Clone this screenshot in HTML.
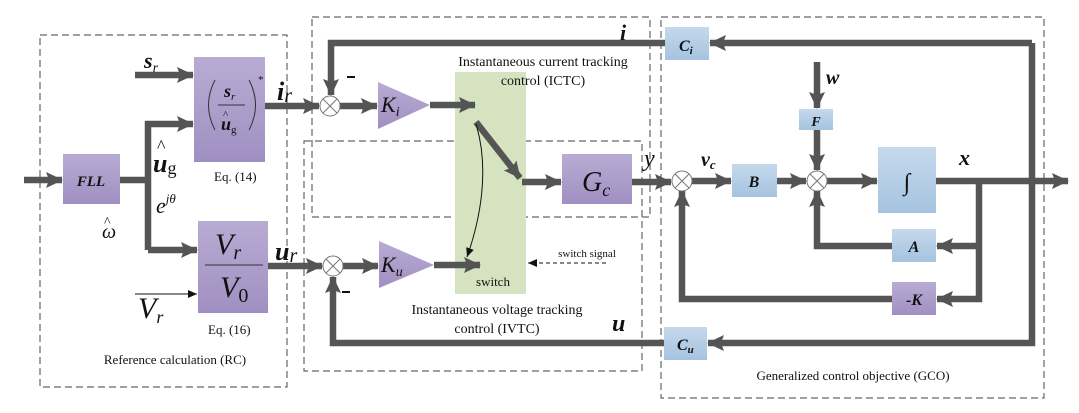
<!DOCTYPE html>
<html><head><meta charset="utf-8">
<style>
html,body{margin:0;padding:0;background:#fff;}
svg{display:block;font-family:"Liberation Serif",serif;}
</style></head>
<body>
<svg width="1079" height="413" viewBox="0 0 1079 413" xmlns="http://www.w3.org/2000/svg">
<defs>
<linearGradient id="pu" x1="0" y1="0" x2="0" y2="1"><stop offset="0" stop-color="#b9acd3"/><stop offset="1" stop-color="#a08fc2"/></linearGradient>
<linearGradient id="bl" x1="0" y1="0" x2="0" y2="1"><stop offset="0" stop-color="#c5d9ec"/><stop offset="1" stop-color="#a5c3df"/></linearGradient>
<marker id="ah" markerUnits="userSpaceOnUse" markerWidth="18" markerHeight="18" refX="16" refY="9" orient="auto"><path d="M0,1 L17,9 L0,17 L3,9 Z" fill="#545454"/></marker>
<marker id="th" markerUnits="userSpaceOnUse" markerWidth="10" markerHeight="10" refX="9" refY="5" orient="auto"><path d="M0,1 L9,5 L0,9 Z" fill="#111"/></marker>
</defs>
<g fill="none" stroke="#666" stroke-width="1.2" stroke-dasharray="7,4">
<rect x="40" y="35" width="247" height="352"/>
<rect x="312" y="17" width="338" height="200"/>
<rect x="304" y="141" width="338" height="230"/>
<rect x="661" y="17" width="383" height="381"/>
</g>
<rect x="455" y="72" width="71" height="222" fill="#d6e3c0"/>
<!-- boxes -->
<rect x="63" y="154" width="57" height="50" fill="url(#pu)"/>
<rect x="194" y="57" width="71" height="105" fill="url(#pu)"/>
<rect x="198" y="221" width="70" height="92" fill="url(#pu)"/>
<rect x="562" y="154" width="70" height="50" fill="url(#pu)"/>
<polygon points="378,82 430,105 378,129" fill="url(#pu)"/>
<polygon points="379,241 434,265 379,288" fill="url(#pu)"/>
<rect x="665" y="27" width="44" height="33" fill="url(#bl)"/>
<rect x="664" y="327" width="43" height="33" fill="url(#bl)"/>
<rect x="732" y="164" width="45" height="33" fill="url(#bl)"/>
<rect x="799" y="109" width="34" height="21" fill="url(#bl)"/>
<rect x="878" y="147" width="58" height="66" fill="url(#bl)"/>
<rect x="892" y="229" width="44" height="33" fill="url(#bl)"/>
<rect x="892" y="282" width="44" height="33" fill="url(#pu)"/>
<!-- thick connectors -->
<g fill="none" stroke="#555" stroke-width="6.5">
<path d="M24,180 H62" marker-end="url(#ah)"/>
<path d="M120,180 H145"/>
<path d="M148,250 V124 H193" marker-end="url(#ah)"/>
<path d="M148,250 H197" marker-end="url(#ah)"/>
<path d="M135,75 H193" marker-end="url(#ah)"/>
<path d="M265,106 H319" marker-end="url(#ah)"/>
<path d="M268,266 H322" marker-end="url(#ah)"/>
<path d="M665,43 H331 V95" marker-end="url(#ah)"/>
<path d="M340,106 H377" marker-end="url(#ah)"/>
<path d="M430,105 H475" marker-end="url(#ah)"/>
<path d="M476,122 L520,178" marker-end="url(#ah)"/>
<path d="M522,182 H561" marker-end="url(#ah)"/>
<path d="M632,182 H671" marker-end="url(#ah)"/>
<path d="M343,266 H378" marker-end="url(#ah)"/>
<path d="M434,265 H480" marker-end="url(#ah)"/>
<path d="M664,343 H333 V277" marker-end="url(#ah)"/>
<path d="M1032,43 H710" marker-end="url(#ah)"/>
<path d="M1032,43 V343 H708" marker-end="url(#ah)"/>
<path d="M692,181 H731" marker-end="url(#ah)"/>
<path d="M777,181 H806" marker-end="url(#ah)"/>
<path d="M817,62 V108" marker-end="url(#ah)"/>
<path d="M817,130 V170" marker-end="url(#ah)"/>
<path d="M827,181 H877" marker-end="url(#ah)"/>
<path d="M936,181 H1068" marker-end="url(#ah)"/>
<path d="M979,181 V299 H937" marker-end="url(#ah)"/>
<path d="M979,246 H937" marker-end="url(#ah)"/>
<path d="M892,246 H817 V191" marker-end="url(#ah)"/>
<path d="M892,299 H682 V191" marker-end="url(#ah)"/>
</g>
<!-- sum circles -->
<g fill="#fff" stroke="#777" stroke-width="1">
<circle cx="330" cy="106" r="10"/><circle cx="333" cy="266" r="10"/>
<circle cx="682" cy="181" r="10"/><circle cx="817" cy="181" r="10"/>
</g>
<g stroke="#777" stroke-width="1">
<path d="M323,99 L337,113 M337,99 L323,113"/><path d="M326,259 L340,273 M340,259 L326,273"/>
<path d="M675,174 L689,188 M689,174 L675,188"/><path d="M810,174 L824,188 M824,174 L810,188"/>
</g>
<!-- thin lines -->
<path d="M135,294 H197" stroke="#111" stroke-width="1" marker-end="url(#th)"/>
<path d="M476,124 C490,170 480,220 467,257" fill="none" stroke="#111" stroke-width="1" marker-end="url(#th)"/>
<path d="M606,263 H528" stroke="#111" stroke-width="1" stroke-dasharray="4,3" marker-end="url(#th)"/>
<!-- parens -->
<path d="M215,80 Q202,105 215,130" fill="none" stroke="#333" stroke-width="1"/>
<path d="M249,80 Q262,105 249,130" fill="none" stroke="#333" stroke-width="1"/>
<!-- text -->
<g fill="#111">
<text x="91" y="186" font-size="15" font-weight="bold" font-style="italic" text-anchor="middle">FLL</text>
<text x="144" y="68" font-size="22" font-weight="bold" font-style="italic">s<tspan font-size="14" font-weight="normal" dy="4">r</tspan></text>
<text x="153" y="172" font-size="26" font-weight="bold" font-style="italic">u<tspan font-size="18" font-weight="normal" font-style="normal" dy="2">g</tspan></text>
<text x="157" y="152" font-size="18">^</text>
<text x="156" y="213" font-size="22" font-style="italic">e<tspan font-size="13" dy="-10">jθ</tspan></text>
<text x="102" y="238" font-size="20" font-style="italic">ω</text>
<text x="104" y="226" font-size="14">^</text>
<text x="258" y="83" font-size="11">*</text>
<text x="224" y="97" font-size="18" font-weight="bold" font-style="italic">s<tspan font-size="11" font-weight="normal" dy="3">r</tspan></text>
<line x1="218" y1="105" x2="245" y2="105" stroke="#333" stroke-width="1"/>
<text x="221" y="130" font-size="18" font-weight="bold" font-style="italic">u<tspan font-size="11" font-weight="normal" font-style="normal" dy="3">g</tspan></text>
<text x="223" y="118" font-size="11">^</text>
<text x="214" y="181" font-size="13">Eq. (14)</text>
<text x="215" y="254" font-size="30" font-style="italic">V<tspan font-size="20" dy="5">r</tspan></text>
<line x1="205" y1="265" x2="263" y2="265" stroke="#333" stroke-width="1"/>
<text x="220" y="297" font-size="30" font-style="italic">V<tspan font-size="20" font-style="normal" dy="5">0</tspan></text>
<text x="208" y="334" font-size="13">Eq. (16)</text>
<text x="138" y="318" font-size="30" font-style="italic">V<tspan font-size="18" dy="5">r</tspan></text>
<text x="175" y="364" font-size="13" text-anchor="middle">Reference calculation (RC)</text>
<text x="277" y="100" font-size="26" font-weight="bold" font-style="italic">i<tspan font-size="20" font-weight="normal" dy="2">r</tspan></text>
<text x="275" y="260" font-size="26" font-weight="bold" font-style="italic">u<tspan font-size="20" font-weight="normal" dy="2">r</tspan></text>
<rect x="347" y="76" width="8" height="2"/>
<rect x="342" y="291" width="8" height="2"/>
<text x="381" y="112" font-size="22" font-style="italic">K<tspan font-size="14" dy="4">i</tspan></text>
<text x="381" y="272" font-size="22" font-style="italic">K<tspan font-size="14" dy="4">u</tspan></text>
<text x="543" y="66" font-size="14" text-anchor="middle">Instantaneous current tracking</text>
<text x="543" y="85" font-size="14" text-anchor="middle">control (ICTC)</text>
<text x="497" y="314" font-size="14" text-anchor="middle">Instantaneous voltage tracking</text>
<text x="497" y="333" font-size="14" text-anchor="middle">control (IVTC)</text>
<text x="493" y="286" font-size="13" text-anchor="middle">switch</text>
<text x="587" y="257" font-size="11" text-anchor="middle">switch signal</text>
<text x="582" y="191" font-size="28" font-style="italic">G<tspan font-size="18" dy="5">c</tspan></text>
<text x="644" y="166" font-size="24" font-style="italic">y</text>
<text x="620" y="40" font-size="22" font-weight="bold" font-style="italic">i</text>
<text x="612" y="331" font-size="24" font-weight="bold" font-style="italic">u</text>
<text x="679" y="51" font-size="16" font-weight="bold" font-style="italic">C<tspan font-size="11" dy="3">i</tspan></text>
<text x="677" y="350" font-size="16" font-weight="bold" font-style="italic">C<tspan font-size="11" dy="3">u</tspan></text>
<text x="701" y="166" font-size="20" font-weight="bold" font-style="italic">v<tspan font-size="13" dy="3">c</tspan></text>
<text x="754" y="187" font-size="16" font-weight="bold" font-style="italic" text-anchor="middle">B</text>
<text x="816" y="126" font-size="14" font-weight="bold" font-style="italic" text-anchor="middle">F</text>
<text x="826" y="84" font-size="20" font-weight="bold" font-style="italic">w</text>
<text x="907" y="190" font-size="24" text-anchor="middle">∫</text>
<text x="959" y="165" font-size="22" font-weight="bold" font-style="italic">x</text>
<text x="914" y="252" font-size="16" font-weight="bold" font-style="italic" text-anchor="middle">A</text>
<text x="914" y="305" font-size="16" font-weight="bold" font-style="italic" text-anchor="middle">-K</text>
<text x="853" y="380" font-size="13" text-anchor="middle">Generalized control objective (GCO)</text>
</g>
</svg>
</body></html>
